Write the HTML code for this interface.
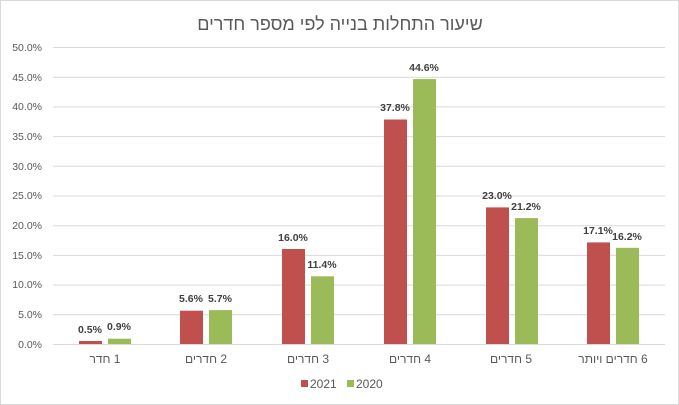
<!DOCTYPE html><html><head><meta charset="utf-8"><style>
body{margin:0;background:#fff}
.w{position:relative;width:677px;height:403px;border:1px solid #d9d9d9;overflow:hidden;font-family:"Liberation Sans","DejaVu Sans",sans-serif}
</style></head><body><div class="w">
<svg width="677" height="403" viewBox="1 1 677 403" xmlns="http://www.w3.org/2000/svg" style="position:absolute;left:0;top:0">
<text x="340" y="30" text-anchor="middle" direction="rtl" font-size="18" fill="#595959" font-family="Liberation Sans, DejaVu Sans, sans-serif">שיעור התחלות בנייה לפי מספר חדרים</text>
<g stroke="#d9d9d9" stroke-width="1">
<line x1="53" x2="665" y1="47.5" y2="47.5"/><line x1="53" x2="665" y1="77.2" y2="77.2"/><line x1="53" x2="665" y1="106.9" y2="106.9"/><line x1="53" x2="665" y1="136.6" y2="136.6"/><line x1="53" x2="665" y1="166.3" y2="166.3"/><line x1="53" x2="665" y1="196" y2="196"/><line x1="53" x2="665" y1="225.7" y2="225.7"/><line x1="53" x2="665" y1="255.4" y2="255.4"/><line x1="53" x2="665" y1="285.1" y2="285.1"/><line x1="53" x2="665" y1="314.8" y2="314.8"/><line x1="53" x2="665" y1="344.5" y2="344.5"/>
</g>
<g font-size="10.5" fill="#595959" text-anchor="end" font-family="Liberation Sans, sans-serif">
<text x="42" y="51">50.0%</text><text x="42" y="81">45.0%</text><text x="42" y="110">40.0%</text><text x="42" y="140">35.0%</text><text x="42" y="170">30.0%</text><text x="42" y="199">25.0%</text><text x="42" y="229">20.0%</text><text x="42" y="259">15.0%</text><text x="42" y="288">10.0%</text><text x="42" y="318">5.0%</text><text x="42" y="348">0.0%</text>
</g>
<g fill="#c0504d">
<rect x="79" y="341" width="23" height="3"/><rect x="180" y="310.7" width="23" height="33.3"/><rect x="282" y="249" width="23" height="95"/><rect x="384" y="119.5" width="23" height="224.5"/><rect x="486" y="207.4" width="23" height="136.6"/><rect x="587" y="242.4" width="23" height="101.6"/>
</g>
<g fill="#9bbb59">
<rect x="108" y="338.7" width="23" height="5.3"/><rect x="209" y="310.1" width="23" height="33.9"/><rect x="311" y="276.3" width="23" height="67.7"/><rect x="413" y="79.1" width="23" height="264.9"/><rect x="515" y="218.1" width="23" height="125.9"/><rect x="616" y="247.8" width="23" height="96.2"/>
</g>
<g font-size="10.5" font-weight="bold" fill="#404040" text-anchor="middle" font-family="Liberation Sans, sans-serif">
<text x="90" y="333">0.5%</text><text x="119" y="330">0.9%</text>
<text x="191" y="302">5.6%</text><text x="220" y="302">5.7%</text>
<text x="293" y="241">16.0%</text><text x="322" y="268">11.4%</text>
<text x="395" y="111">37.8%</text><text x="424" y="71">44.6%</text>
<text x="497" y="199">23.0%</text><text x="526" y="210">21.2%</text>
<text x="598" y="234">17.1%</text><text x="627" y="240">16.2%</text>
</g>
<g font-size="12" fill="#595959" text-anchor="middle" direction="rtl" font-family="Liberation Sans, DejaVu Sans, sans-serif">
<text x="105" y="363">1 חדר</text><text x="206" y="363">2 חדרים</text><text x="308" y="363">3 חדרים</text><text x="410" y="363">4 חדרים</text><text x="511" y="363">5 חדרים</text><text x="613" y="363">6 חדרים ויותר</text>
</g>
<rect x="301" y="380" width="7" height="7" fill="#c0504d"/>
<text x="310" y="388" font-size="12" fill="#595959" font-family="Liberation Sans, sans-serif">2021</text>
<rect x="347" y="380" width="7" height="7" fill="#9bbb59"/>
<text x="356" y="388" font-size="12" fill="#595959" font-family="Liberation Sans, sans-serif">2020</text>
</svg></div></body></html>
